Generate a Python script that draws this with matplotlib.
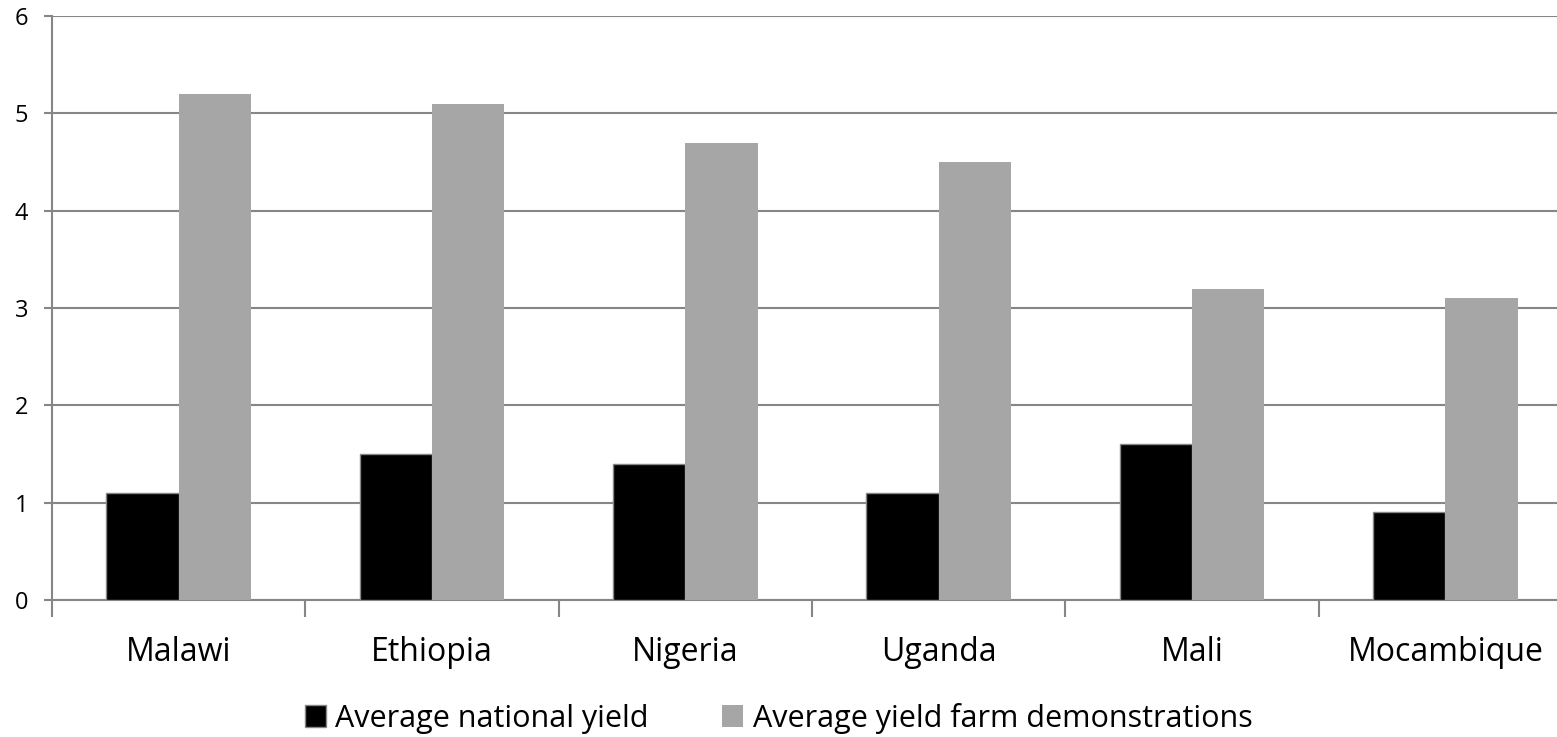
import matplotlib
matplotlib.use("Agg")
from matplotlib import pyplot as plt
from matplotlib.patches import Patch
import numpy as np

countries = ["Malawi", "Ethiopia", "Nigeria", "Uganda", "Mali", "Mocambique"]
national_yield = [1.1, 1.5, 1.4, 1.1, 1.6, 0.9]
demo_yield = [5.2, 5.1, 4.7, 4.5, 3.2, 3.1]
y_ticks = [0, 1, 2, 3, 4, 5, 6]

plt.rcParams['font.family'] = ['Open Sans', 'DejaVu Sans']
grid_col = "#868686"

fig = plt.figure(figsize=(15.57, 7.37), dpi=100)
# plot area runs a little past the right edge of the figure
ax = fig.add_axes([52 / 1557, 137 / 737, 1520 / 1557, 584 / 737])

x = np.arange(len(countries))
w = 0.285
ax.bar(x - w / 2, national_yield, w, color="black", edgecolor=grid_col, linewidth=1, zorder=3)
ax.bar(x + w / 2, demo_yield, w, color="#a6a6a6", linewidth=0, zorder=3)

ax.set_xlim(-0.5, len(countries) - 0.5)
ax.set_ylim(0, 6)
ax.set_yticks(y_ticks)
ax.set_yticklabels([str(t) for t in y_ticks], fontsize=17)
ax.yaxis.grid(True, color=grid_col, linewidth=1.5, zorder=0)

ax.set_xticks(x)
ax.set_xticklabels(countries, fontsize=23)
ax.set_xticks(np.arange(len(countries) + 1) - 0.5, minor=True)
ax.tick_params(axis="x", which="major", length=0, pad=26)
ax.tick_params(axis="x", which="minor", length=12, width=1.5, color=grid_col)
ax.tick_params(axis="y", length=6, width=1.5, color=grid_col, pad=11)

for s in ["top", "right"]:
    ax.spines[s].set_visible(False)
for s in ["left", "bottom"]:
    ax.spines[s].set_color(grid_col)
    ax.spines[s].set_linewidth(1.5)

handles = [Patch(facecolor="black", edgecolor=grid_col, label="Average national yield"),
           Patch(facecolor="#a6a6a6", label="Average yield farm demonstrations")]
fig.legend(handles=handles, loc="center", bbox_to_anchor=(0.5, 19 / 737), ncol=2,
           frameon=False, fontsize=22, handlelength=0.7, handleheight=0.7,
           handletextpad=0.3, columnspacing=2.4, borderpad=0)

fig.savefig("out.png", dpi=100)
